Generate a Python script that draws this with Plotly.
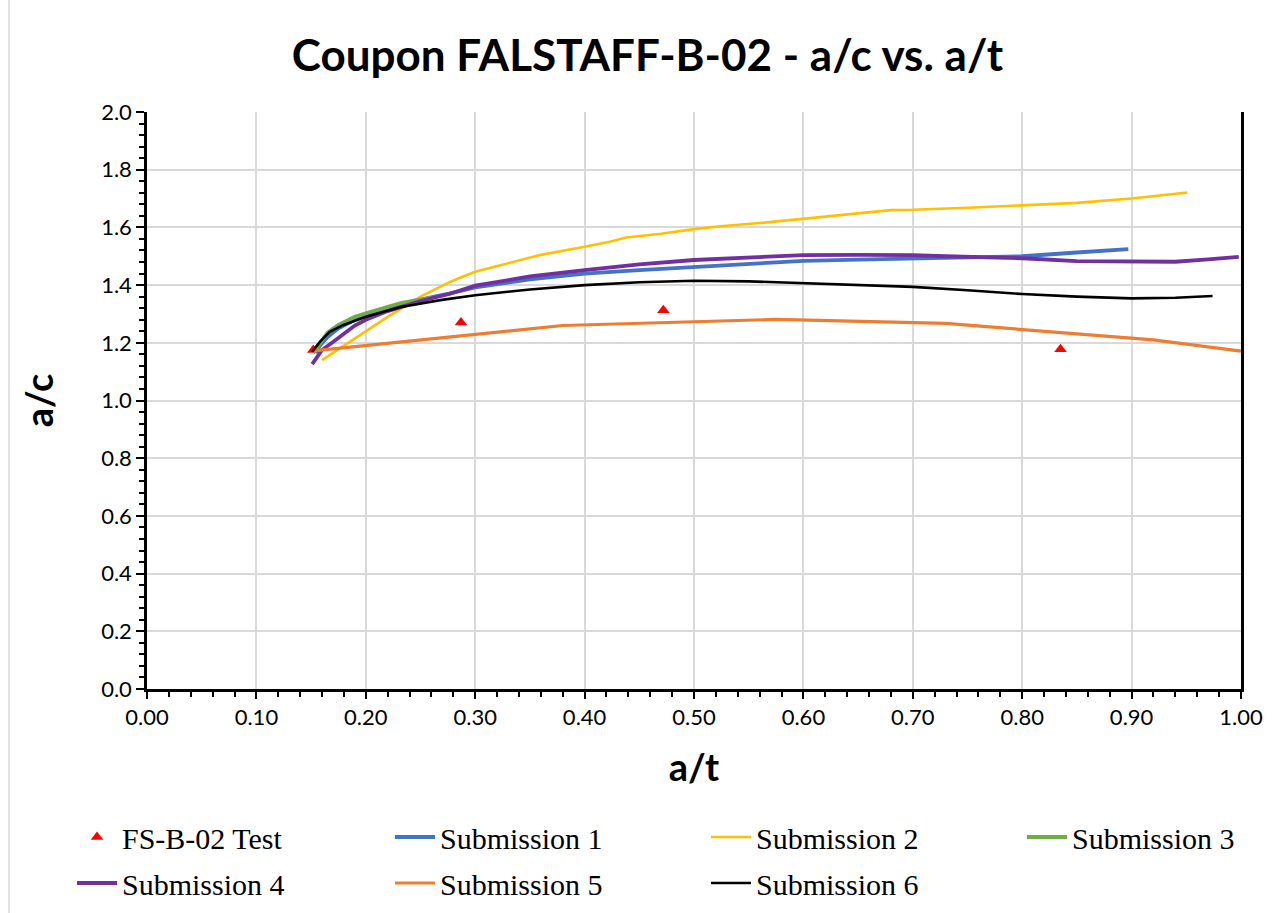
import plotly.graph_objects as go

# ---- data ----
test_x = [0.152, 0.287, 0.472, 0.835]
test_y = [1.175, 1.270, 1.313, 1.178]

s1_x = [0.154, 0.158, 0.165, 0.175, 0.19, 0.20, 0.22, 0.25, 0.277, 0.30, 0.35, 0.40, 0.45, 0.50, 0.55, 0.60, 0.65, 0.70, 0.75, 0.80, 0.85, 0.897]
s1_y = [1.165, 1.19, 1.22, 1.25, 1.28, 1.295, 1.32, 1.35, 1.371, 1.392, 1.42, 1.44, 1.452, 1.463, 1.475, 1.484, 1.488, 1.492, 1.496, 1.50, 1.513, 1.525]

s2_x = [0.16, 0.17, 0.18, 0.19, 0.20, 0.22, 0.25, 0.277, 0.289, 0.30, 0.323, 0.359, 0.40, 0.423, 0.438, 0.47, 0.50, 0.524, 0.56, 0.60, 0.643, 0.68, 0.70, 0.75, 0.80, 0.85, 0.90, 0.93, 0.951]
s2_y = [1.14, 1.165, 1.19, 1.215, 1.24, 1.29, 1.36, 1.411, 1.43, 1.446, 1.469, 1.504, 1.533, 1.55, 1.565, 1.578, 1.594, 1.604, 1.615, 1.631, 1.646, 1.66, 1.661, 1.668, 1.677, 1.685, 1.70, 1.712, 1.721]

s3_x = [0.152, 0.158, 0.165, 0.175, 0.19, 0.20, 0.215, 0.231, 0.245, 0.26]
s3_y = [1.165, 1.20, 1.235, 1.262, 1.29, 1.302, 1.32, 1.337, 1.347, 1.356]

s4_x = [0.151, 0.155, 0.16, 0.17, 0.18, 0.19, 0.20, 0.22, 0.25, 0.277, 0.30, 0.35, 0.40, 0.45, 0.50, 0.55, 0.60, 0.65, 0.70, 0.73, 0.80, 0.85, 0.90, 0.94, 0.97, 0.998]
s4_y = [1.126, 1.15, 1.175, 1.203, 1.23, 1.26, 1.28, 1.31, 1.345, 1.37, 1.398, 1.43, 1.452, 1.472, 1.487, 1.497, 1.504, 1.505, 1.504, 1.50, 1.493, 1.483, 1.481, 1.481, 1.489, 1.498]

s5_x = [0.152, 0.38, 0.575, 0.73, 0.92, 1.00]
s5_y = [1.172, 1.26, 1.281, 1.267, 1.21, 1.171]

s6_x = [0.151, 0.155, 0.158, 0.167, 0.179, 0.20, 0.231, 0.268, 0.30, 0.35, 0.40, 0.45, 0.50, 0.55, 0.60, 0.65, 0.70, 0.75, 0.80, 0.85, 0.90, 0.94, 0.974]
s6_y = [1.169, 1.19, 1.203, 1.238, 1.261, 1.29, 1.323, 1.348, 1.365, 1.385, 1.40, 1.41, 1.415, 1.413, 1.406, 1.40, 1.394, 1.382, 1.369, 1.36, 1.354, 1.356, 1.362]

# name, x, y, colour, width, legend column
series = [
    ("Submission 1", s1_x, s1_y, "#4472C4", 3.8, "legend2"),
    ("Submission 2", s2_x, s2_y, "#FFC000", 2.6, "legend3"),
    ("Submission 3", s3_x, s3_y, "#70AD47", 3.8, "legend4"),
    ("Submission 4", s4_x, s4_y, "#7030A0", 3.8, "legend"),
    ("Submission 5", s5_x, s5_y, "#ED7D31", 3.2, "legend2"),
    ("Submission 6", s6_x, s6_y, "#000000", 2.6, "legend3"),
]

fig = go.Figure()
fig.add_trace(go.Scatter(x=test_x, y=test_y, mode="markers", name="FS-B-02 Test",
                         legend="legend", legendgroup="g0",
                         marker=dict(symbol="triangle-up", size=11, color="#FF0000")))
for i, (name, xs, ys, col, w, lg) in enumerate(series):
    fig.add_trace(go.Scatter(x=xs, y=ys, mode="lines", name=name, legend=lg,
                             legendgroup="g%d" % (i + 1),
                             line=dict(color=col, width=w)))

axis_font = dict(family="Lato, sans-serif", size=22, color="#000000")
leg_font = dict(family="Liberation Serif, Times New Roman, serif", size=30, color="#000000")

PL, PW = 147, 1094
PT, PH = 112, 577


def leg(px_left):
    return dict(orientation="v", x=(px_left - PL) / PW, xanchor="left",
                y=(PT + PH - 811) / PH, yanchor="top",
                font=leg_font, itemwidth=40, tracegroupgap=4,
                bgcolor="rgba(0,0,0,0)")


fig.update_layout(
    width=1272, height=913,
    margin=dict(l=147, r=31, t=112, b=224, autoexpand=False),
    paper_bgcolor="white", plot_bgcolor="white",
    title=dict(text="<b>Coupon FALSTAFF-B-02 - a/c vs. a/t</b>",
               font=dict(family="Lato, sans-serif", size=44, color="#000000"),
               x=0.509, xref="container", xanchor="center",
               y=1 - 56 / 913, yref="container", yanchor="middle"),
    showlegend=True,
    legend=leg(72), legend2=leg(390), legend3=leg(706), legend4=leg(1022),
    xaxis=dict(range=[0, 1], dtick=0.1, tick0=0, tickformat=".2f",
               showgrid=True, gridcolor="#D9D9D9", gridwidth=1.5,
               showline=True, linecolor="#000000", linewidth=2.5,
               ticks="outside", ticklen=7, tickwidth=1.5, tickcolor="#000000",
               minor=dict(dtick=0.02, ticks="outside", ticklen=5, tickwidth=1.5,
                          tickcolor="#000000", showgrid=False),
               tickfont=axis_font, zeroline=False,
               title=dict(text="<b>a/t</b>", standoff=26,
                          font=dict(family="Lato, sans-serif", size=38, color="#000000"))),
    yaxis=dict(range=[0, 2], dtick=0.2, tick0=0, tickformat=".1f",
               showgrid=True, gridcolor="#D9D9D9", gridwidth=1.5,
               showline=True, linecolor="#000000", linewidth=2.5, mirror=True,
               ticks="outside", ticklen=8, tickwidth=1.5, tickcolor="#000000",
               minor=dict(dtick=0.04, ticks="outside", ticklen=5, tickwidth=1.5,
                          tickcolor="#000000", showgrid=False),
               tickfont=axis_font, zeroline=False,
               title=dict(text="<b>a/c</b>", standoff=36,
                          font=dict(family="Lato, sans-serif", size=38, color="#000000"))),
    shapes=[dict(type="line", xref="paper", yref="paper",
                 x0=(9 - PL) / PW, x1=(9 - PL) / PW, y0=-0.4, y1=1.2,
                 line=dict(color="#D9D9D9", width=1.5))],
)

fig.write_html("out.html")
